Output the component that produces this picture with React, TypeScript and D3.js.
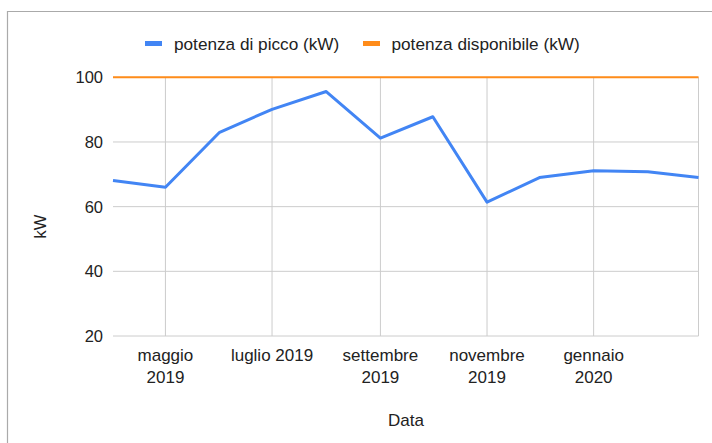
import React from "react";
import * as d3 from "d3";

const months = ["2019-04-01","2019-05-01","2019-06-01","2019-07-01","2019-08-01","2019-09-01","2019-10-01","2019-11-01","2019-12-01","2020-01-01","2020-02-01","2020-03-01"];
const potenzaPicco = [68.1, 66.0, 83.0, 90.1, 95.6, 81.2, 87.8, 61.4, 69.0, 71.1, 70.8, 69.0];
const potenzaDisponibile = [100, 100, 100, 100, 100, 100, 100, 100, 100, 100, 100, 100];
const xTickDates = ["2019-05-01","2019-07-01","2019-09-01","2019-11-01","2020-01-01","2020-03-01"];
const xTickLabels = [["maggio","2019"],["luglio 2019"],["settembre","2019"],["novembre","2019"],["gennaio","2020"],[]];
const yTicks = [20, 40, 60, 80, 100];
const seriesNames = ["potenza di picco (kW)", "potenza disponibile (kW)"];
const colors = ["#4285f4", "#ff8c1a"];

const W = 712, H = 443;
const left = 113, right = 698.5, top = 77.3, bottom = 336;
const font = "'Liberation Sans', Arial, sans-serif";

export default function App() {
  const parse = d3.utcParse("%Y-%m-%d");
  const dates = months.map((m) => parse(m) as Date);
  const x = d3.scaleUtc().domain([dates[0], dates[dates.length - 1]]).range([left, right]);
  const y = d3.scaleLinear().domain([20, 100]).range([bottom, top]);
  const line = d3.line<number>().x((_, i) => x(dates[i])).y((v) => y(v));
  const tickDates = xTickDates.map((d) => parse(d) as Date);

  return (
    <div style={{ position: "absolute", left: 0, top: 0, width: W, height: H, background: "#fff" }}>
      <svg width={W} height={H} style={{ display: "block" }} fontFamily={font}>
        <rect x={0} y={0} width={W} height={H} fill="#fff" />
        <line x1={7.5} x2={7.5} y1={11} y2={H} stroke="#aaa" strokeWidth={1.2} />
        <line x1={7} x2={W} y1={11.5} y2={11.5} stroke="#aaa" strokeWidth={1.2} />
        {yTicks.map((t) => (
          <g key={t}>
            <line x1={left} x2={right} y1={y(t)} y2={y(t)} stroke="#cccccc" strokeWidth={1} />
            <text x={103} y={y(t)} dy="0.36em" textAnchor="end" fontSize={16.5} fill="#222">{t}</text>
          </g>
        ))}
        {tickDates.map((d, i) => (
          <g key={i}>
            <line x1={x(d)} x2={x(d)} y1={top} y2={bottom} stroke="#cccccc" strokeWidth={1} />
            {xTickLabels[i].map((ln, j) => (
              <text key={j} x={x(d)} y={361 + j * 21.5} textAnchor="middle" fontSize={17} fill="#222">{ln}</text>
            ))}
          </g>
        ))}
        <path d={line(potenzaDisponibile) || ""} fill="none" stroke={colors[1]} strokeWidth={2} />
        <path d={line(potenzaPicco) || ""} fill="none" stroke={colors[0]} strokeWidth={3} strokeLinejoin="round" />
        <text x={40} y={226.5} transform="rotate(-90 40 226.5)" dy="0.36em" textAnchor="middle" fontSize={16.5} fill="#222">kW</text>
        <text x={406} y={426} textAnchor="middle" fontSize={17} fill="#222">Data</text>
        <rect x={145} y={41} width={17} height={5} fill={colors[0]} />
        <text x={174} y={49.5} fontSize={17.2} fill="#222">{seriesNames[0]}</text>
        <rect x={363} y={41} width={17} height={5} fill={colors[1]} />
        <text x={391.5} y={49.5} fontSize={17.2} fill="#222">{seriesNames[1]}</text>
      </svg>
    </div>
  );
}
